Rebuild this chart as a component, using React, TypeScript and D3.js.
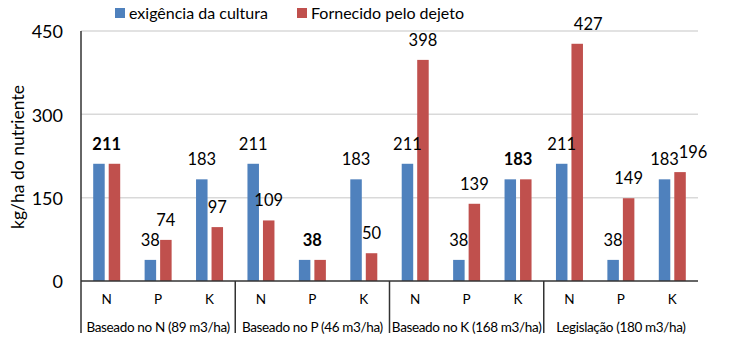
import React from "react";
import * as d3 from "d3";

const groups = [
  "Baseado no N (89 m3/ha)",
  "Baseado no P (46 m3/ha)",
  "Baseado no K (168 m3/ha)",
  "Legislação (180 m3/ha)",
];
const nutrients = ["N", "P", "K"];
const exigencia = [211, 38, 183, 211, 38, 183, 211, 38, 183, 211, 38, 183];
const fornecido = [211, 74, 97, 109, 38, 50, 398, 139, 183, 427, 149, 196];
const yTicks = [0, 150, 300, 450];
const seriesNames = ["exigência da cultura", "Fornecido pelo dejeto"];
const colors = ["#4F81BD", "#C0504D"];
// label horizontal nudges (index in fornecido) to mimic overlap avoidance
const redLabelNudge: Record<number, number> = { 9: 11, 11: 13 };

const W = 730;
const H = 347;
const left = 81;
const right = 698;
const top = 31;
const bottom = 281;
const FONT = "Lato, 'Open Sans', sans-serif";

export default function App() {
  const keys = groups.flatMap((g, gi) => nutrients.map((n) => `${gi}-${n}`));
  const x = d3.scaleBand<string>().domain(keys).range([left, right]).padding(0);
  const gx = d3.scaleBand<string>().domain(groups).range([left, right]).padding(0);
  const y = d3.scaleLinear().domain([0, 450]).range([bottom, top]);
  const bw = 11.5;
  const off = 7.75;

  return (
    <svg
      width={W}
      height={H}
      style={{ position: "absolute", left: 0, top: 0, background: "#fff" }}
      fontFamily={FONT}
    >
      {/* legend */}
      {seriesNames.map((s, i) => {
        const lx = i === 0 ? 115 : 297;
        return (
          <g key={s}>
            <rect x={lx} y={8} width={10} height={10} fill={colors[i]} />
            <text x={lx + 14} y={19} fontSize={16} fill="#000">
              {s}
            </text>
          </g>
        );
      })}

      {/* gridlines */}
      {yTicks.filter((t) => t > 0).map((t) => (
        <line key={t} x1={left} x2={right} y1={y(t)} y2={y(t)} stroke="#D9D9D9" strokeWidth={1.5} />
      ))}
      {/* y tick labels */}
      {yTicks.map((t) => (
        <text key={t} x={63} y={y(t) + 1} dy="0.35em" textAnchor="end" fontSize={18} fill="#000">
          {t}
        </text>
      ))}
      {/* y title */}
      <text
        transform={`translate(24, 157) rotate(-90)`}
        textAnchor="middle"
        fontSize={17.5}
        fill="#000"
      >
        kg/ha do nutriente
      </text>

      {/* bars */}
      {keys.map((k, i) => {
        const cx = (x(k) as number) + x.bandwidth() / 2;
        return (
          <g key={k}>
            <rect x={cx - off - bw / 2} y={y(exigencia[i])} width={bw} height={bottom - y(exigencia[i])} fill={colors[0]} />
            <rect x={cx + off - bw / 2} y={y(fornecido[i])} width={bw} height={bottom - y(fornecido[i])} fill={colors[1]} />
          </g>
        );
      })}

      {/* data labels */}
      {keys.map((k, i) => {
        const cx = (x(k) as number) + x.bandwidth() / 2;
        const a = exigencia[i];
        const b = fornecido[i];
        if (a === b) {
          return (
            <text key={k} x={cx} y={y(a) - 20} dy="0.35em" textAnchor="middle" fontSize={16.5} fontWeight="bold" fill="#000">
              {a}
            </text>
          );
        }
        return (
          <g key={k}>
            <text x={cx - off} y={y(a) - 20} dy="0.35em" textAnchor="middle" fontSize={16.5} fill="#000">
              {a}
            </text>
            <text x={cx + off + (redLabelNudge[i] || 0)} y={y(b) - 20} dy="0.35em" textAnchor="middle" fontSize={16.5} fill="#000">
              {b}
            </text>
          </g>
        );
      })}

      {/* x axis */}
      <line x1={left} x2={right} y1={bottom} y2={bottom} stroke="#333" strokeWidth={1.5} />
      <line x1={left} x2={left} y1={top} y2={333} stroke="#333" strokeWidth={1.5} />
      {groups.slice(1).map((g) => (
        <line key={g} x1={gx(g)} x2={gx(g)} y1={bottom} y2={333} stroke="#333" strokeWidth={1.5} />
      ))}
      {keys.map((k, i) => (
        <text key={k} x={(x(k) as number) + x.bandwidth() / 2} y={299} dy="0.35em" textAnchor="middle" fontSize={13.5} fill="#000">
          {nutrients[i % 3]}
        </text>
      ))}
      {groups.map((g) => (
        <text key={g} x={(gx(g) as number) + gx.bandwidth() / 2} y={327} dy="0.35em" textAnchor="middle" fontSize={13.5} letterSpacing={-0.35} fill="#000">
          {g}
        </text>
      ))}
    </svg>
  );
}
